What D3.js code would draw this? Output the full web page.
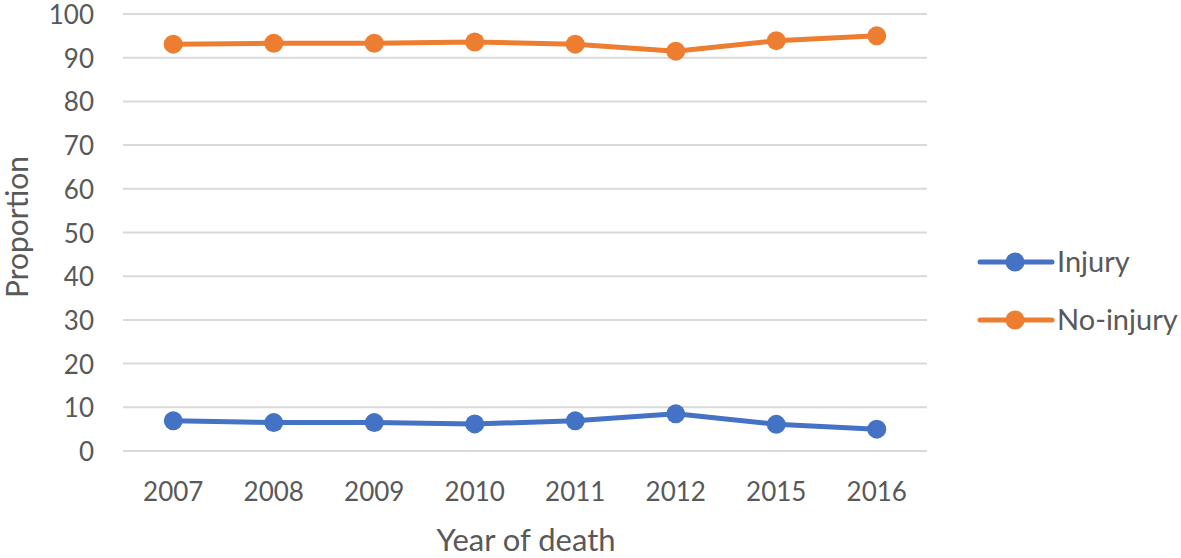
<!DOCTYPE html>
<html>
<head>
<meta charset="utf-8">
<script src="https://cdn.jsdelivr.net/npm/d3@7"></script>
<style>
  body { margin: 0; background: #fff; }
  text { font-family: Lato, "Open Sans", sans-serif; fill: #595959; }
</style>
</head>
<body>
<script>
// ---------------- DATA ----------------
var years = ['2007', '2008', '2009', '2010', '2011', '2012', '2015', '2016']
var injury = [6.9, 6.5, 6.5, 6.2, 6.9, 8.5, 6.1, 5.0]
var noInjury = [93.1, 93.3, 93.3, 93.6, 93.1, 91.5, 93.9, 95.0]
var yTicks = [0, 10, 20, 30, 40, 50, 60, 70, 80, 90, 100]
var seriesNames = ['Injury', 'No-injury']
var seriesColors = ['#4472c4', '#ed7d31']

// ---------------- SVG ----------------
var width = 1181
var height = 558

var svg = d3.select('body')
  .append('svg')
  .attr('width', width)
  .attr('height', height)

var x = d3.scaleBand().domain(years).range([123, 927])
var y = d3.scaleLinear().domain([0, 100]).range([451, 14])

// gridlines
svg.append('g')
  .selectAll('line')
  .data(yTicks)
  .enter()
  .append('line')
  .attr('x1', 123)
  .attr('x2', 927)
  .attr('y1', d => y(d))
  .attr('y2', d => y(d))
  .attr('stroke', '#d9d9d9')
  .attr('stroke-width', 2)

// y axis labels
svg.append('g')
  .selectAll('text')
  .data(yTicks)
  .enter()
  .append('text')
  .attr('x', 94)
  .attr('y', d => y(d) + 10)
  .attr('text-anchor', 'end')
  .attr('font-size', 26)
  .text(d => d)

// x axis labels
svg.append('g')
  .selectAll('text')
  .data(years)
  .enter()
  .append('text')
  .attr('x', d => x(d) + x.bandwidth() / 2)
  .attr('y', 501)
  .attr('text-anchor', 'middle')
  .attr('font-size', 26)
  .text(d => d)

// axis titles
svg.append('text')
  .attr('x', 526)
  .attr('y', 551)
  .attr('text-anchor', 'middle')
  .attr('font-size', 31)
  .text('Year of death')

svg.append('text')
  .attr('transform', 'translate(28, 227) rotate(-90)')
  .attr('text-anchor', 'middle')
  .attr('font-size', 30)
  .text('Proportion')

// ---------------- LINES ----------------
var series = [injury, noInjury]
var line = d3.line()
  .x((d, i) => x(years[i]) + x.bandwidth() / 2)
  .y(d => y(d))

series.forEach(function(values, s) {
  svg.append('path')
    .datum(values)
    .attr('d', line)
    .attr('fill', 'none')
    .attr('stroke', seriesColors[s])
    .attr('stroke-width', 5)
    .attr('stroke-linejoin', 'round')

  svg.append('g')
    .selectAll('circle')
    .data(values)
    .enter()
    .append('circle')
    .attr('cx', (d, i) => x(years[i]) + x.bandwidth() / 2)
    .attr('cy', d => y(d))
    .attr('r', 9.5)
    .attr('fill', seriesColors[s])
})

// ---------------- LEGEND ----------------
var legend = svg.append('g')
  .selectAll('g')
  .data(seriesNames)
  .enter()
  .append('g')
  .attr('transform', (d, i) => 'translate(0,' + (262 + i * 58) + ')')

legend.append('line')
  .attr('x1', 980)
  .attr('x2', 1052)
  .attr('stroke', (d, i) => seriesColors[i])
  .attr('stroke-width', 5)
  .attr('stroke-linecap', 'round')

legend.append('circle')
  .attr('cx', 1015)
  .attr('r', 9.5)
  .attr('fill', (d, i) => seriesColors[i])

legend.append('text')
  .attr('x', 1057)
  .attr('y', 10)
  .attr('font-size', 29)
  .text(d => d)
</script>
</body>
</html>
